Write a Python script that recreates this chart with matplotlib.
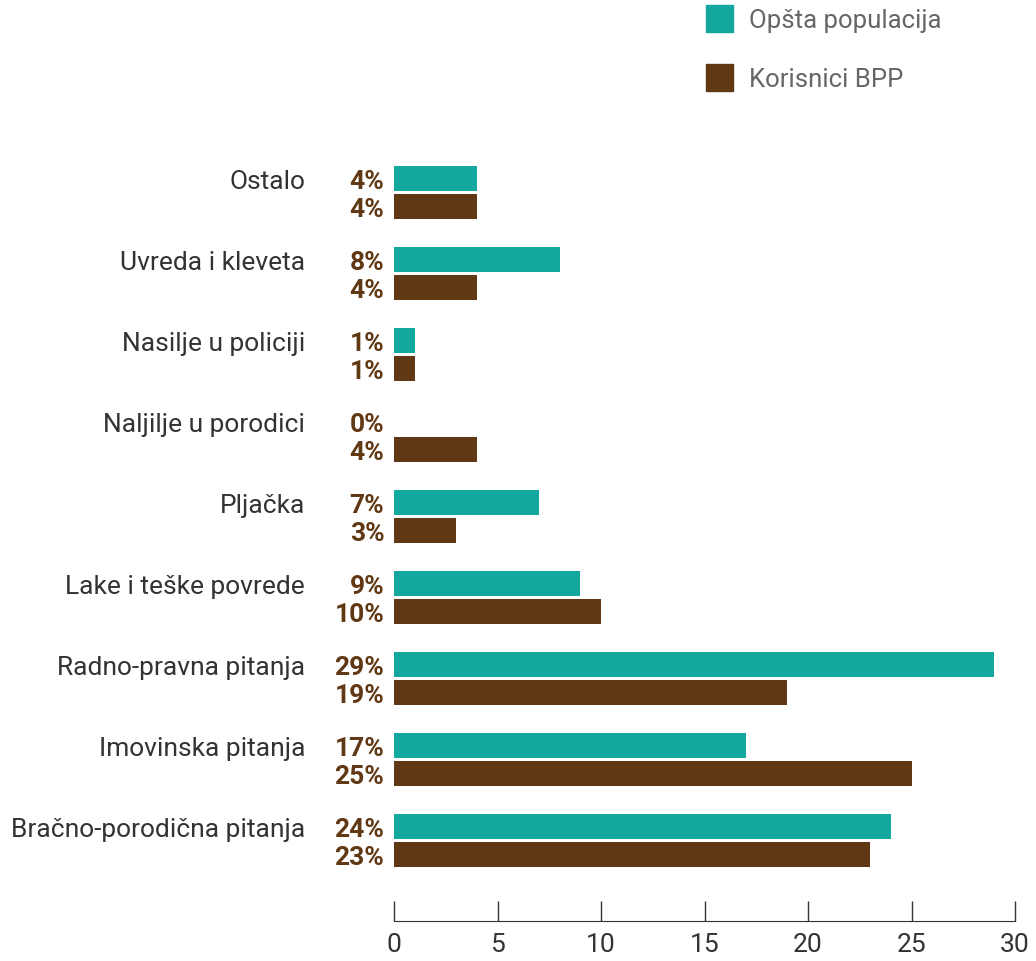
import matplotlib
matplotlib.use("Agg")
import matplotlib.pyplot as plt
from matplotlib.patches import Rectangle
import numpy as np

plt.rcParams['font.family'] = ['Roboto', 'DejaVu Sans']

categories = ["Bračno-porodična pitanja", "Imovinska pitanja", "Radno-pravna pitanja",
              "Lake i teške povrede", "Pljačka", "Naljilje u porodici",
              "Nasilje u policiji", "Uvreda i kleveta", "Ostalo"]
series_names = ["Opšta populacija", "Korisnici BPP"]
opsta = [24, 17, 29, 9, 7, 0, 1, 8, 4]
korisnici = [23, 25, 19, 10, 3, 4, 1, 4, 4]
xticks = [0, 5, 10, 15, 20, 25, 30]

teal = "#12A89D"
brown = "#603813"

fig = plt.figure(figsize=(10.36, 9.62), dpi=100)
ax = fig.add_axes([394/1036, 1 - 922/962, (1015-394)/1036, 9.5*81/962])

y = np.arange(len(categories))
off = 14/81
h = 25/81
ax.barh(y + off, opsta, height=h, color=teal)
ax.barh(y - off, korisnici, height=h, color=brown)

for yi, a, b, cat in zip(y, opsta, korisnici, categories):
    ax.annotate(f"{a}%", xy=(0, yi + off), xytext=(-7, -2), textcoords="offset points",
                ha="right", va="center", fontsize=19, fontweight="bold", color=brown)
    ax.annotate(f"{b}%", xy=(0, yi - off), xytext=(-7, -2), textcoords="offset points",
                ha="right", va="center", fontsize=19, fontweight="bold", color=brown)
    ax.annotate(cat, xy=(0, yi + off), xytext=(-64, -2.5), textcoords="offset points",
                ha="right", va="center", fontsize=19, color="#333333")

ax.set_xlim(0, 30)
ax.set_ylim(-1, 8.5)
ax.set_xticks(xticks)
ax.set_xticklabels([str(t) for t in xticks], fontsize=19, color="#333333")
ax.set_yticks([])
for s in ["top", "right", "left"]:
    ax.spines[s].set_visible(False)
ax.spines["bottom"].set_color("#333333")
ax.tick_params(axis="x", direction="in", length=14.5, width=1, color="#333333", pad=8)

# legend
for i, (name, col) in enumerate(zip(series_names, [teal, brown])):
    top = 6 + i * 59
    fig.patches.append(Rectangle((706/1036, 1 - (top + 27)/962), 27/1036, 27/962,
                                 transform=fig.transFigure, color=col))
    fig.text(749/1036, 1 - (top + 15)/962, name, ha="left", va="center",
             fontsize=18.5, color="#666666")

fig.savefig("out.png", dpi=100)
